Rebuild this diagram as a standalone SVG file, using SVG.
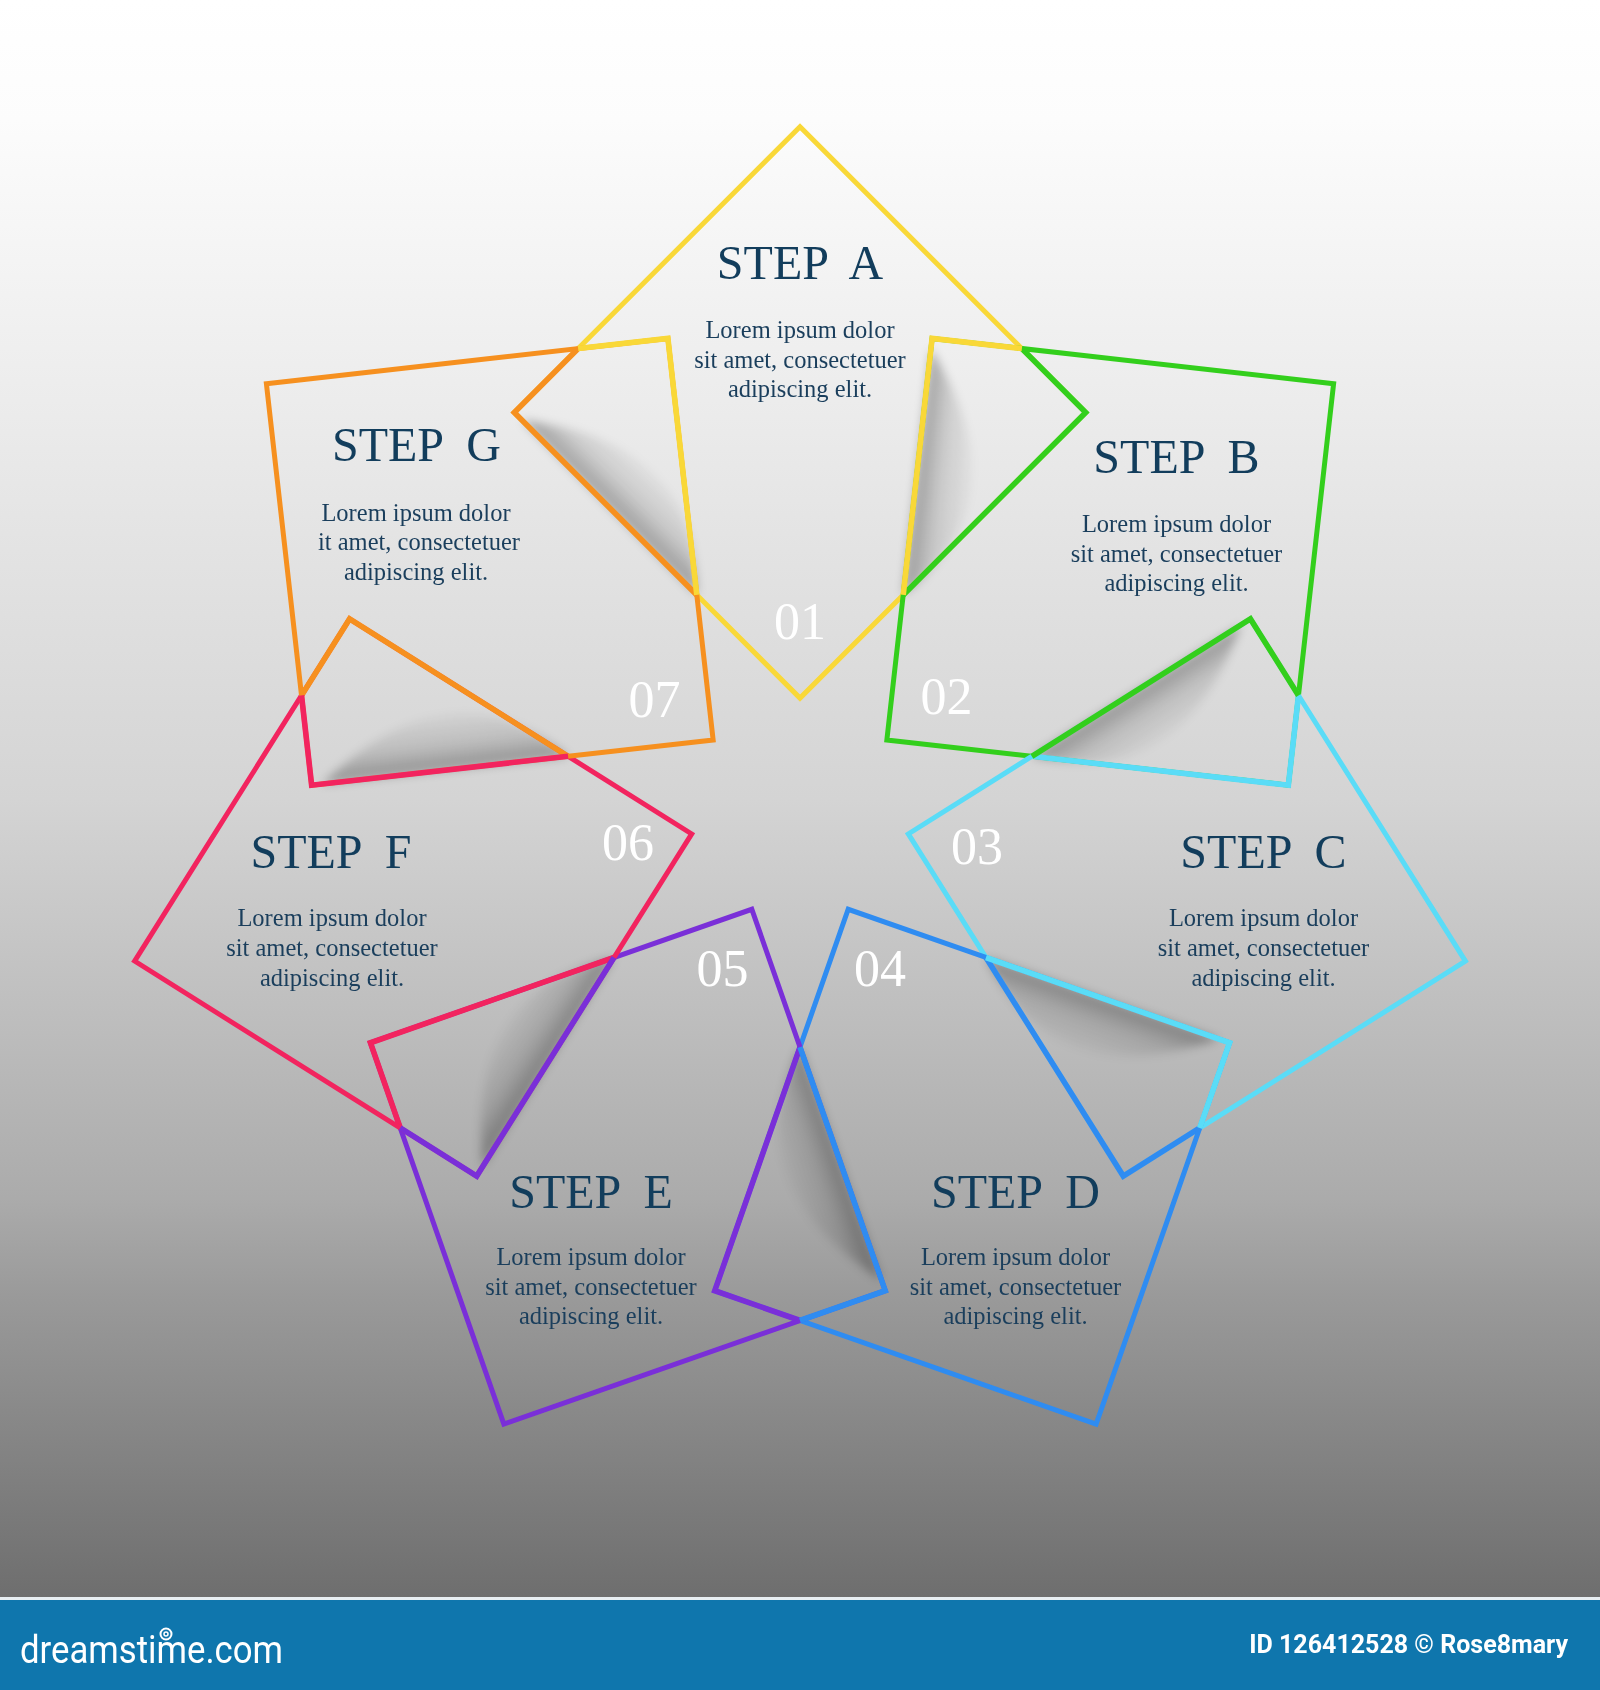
<svg xmlns="http://www.w3.org/2000/svg" xmlns:xlink="http://www.w3.org/1999/xlink" width="1600" height="1690" viewBox="0 0 1600 1690">
  <style>
    .t { font-family: "Liberation Serif", "Times New Roman", serif; font-size: 48px; fill: #123d5c; text-anchor: middle; white-space: pre; }
    .b { font-family: "Liberation Serif", "Times New Roman", serif; font-size: 24.5px; fill: #1a3e5c; text-anchor: middle; }
    .n { font-family: "Liberation Serif", "Times New Roman", serif; font-size: 52px; fill: #ffffff; text-anchor: middle; }
    .sq { fill: none; stroke-width: 5; stroke-linejoin: miter; stroke-miterlimit: 10; }
    .cn { fill: none; stroke-width: 5.6; stroke-linejoin: miter; stroke-miterlimit: 10; }
    .foot { font-family: Roboto, "Liberation Sans", sans-serif; fill: #ffffff; }
  </style>
  <defs>
    <linearGradient id="bg" x1="0" y1="0" x2="0" y2="1598" gradientUnits="userSpaceOnUse">
      <stop offset="0" stop-color="#ffffff"/>
      <stop offset="0.075" stop-color="#fcfcfc"/>
      <stop offset="0.25" stop-color="#ececec"/>
      <stop offset="0.5" stop-color="#d4d4d4"/>
      <stop offset="0.75" stop-color="#ababab"/>
      <stop offset="0.81" stop-color="#9a9a9a"/>
      <stop offset="1" stop-color="#6e6e6e"/>
    </linearGradient>
    <linearGradient id="shg" x1="605.5" y1="503.6" x2="650" y2="459.1" gradientUnits="userSpaceOnUse">
      <stop offset="0" stop-color="#000" stop-opacity="0.32"/>
      <stop offset="0.4" stop-color="#000" stop-opacity="0.12"/>
      <stop offset="1" stop-color="#000" stop-opacity="0"/>
    </linearGradient>
    <filter id="blur" x="-30%" y="-30%" width="160%" height="160%">
      <feGaussianBlur stdDeviation="5"/>
    </filter>
    <path id="sq" d="M800,126.7 L1085.7,412.4 L800,698.1 L514.3,412.4 Z"/>
    <path id="cR" d="M1021.8,348.5 L1085.7,412.4 L903.2,594.9"/>
    <path id="cL" d="M578.2,348.5 L514.3,412.4 L696.8,594.9"/>
    <path id="sh" d="M522,420 L696.8,594.9 Q700,442 522,420 Z"/>
  </defs>

  <rect x="0" y="0" width="1600" height="1598" fill="url(#bg)"/>

  <g id="shadows" fill="url(#shg)" filter="url(#blur)">
    <use xlink:href="#sh" href="#sh"/>
    <use xlink:href="#sh" href="#sh" transform="rotate(51.428571 800 809.2)"/>
    <use xlink:href="#sh" href="#sh" transform="rotate(102.857143 800 809.2)"/>
    <use xlink:href="#sh" href="#sh" transform="rotate(154.285714 800 809.2)"/>
    <use xlink:href="#sh" href="#sh" transform="rotate(205.714286 800 809.2)"/>
    <use xlink:href="#sh" href="#sh" transform="rotate(257.142857 800 809.2)"/>
    <use xlink:href="#sh" href="#sh" transform="rotate(308.571429 800 809.2)"/>
  </g>

  <g id="connectors"></g>

  <g id="step-a">
    <g>
      <use xlink:href="#sq" href="#sq" class="sq" stroke="#f9d838"/>
      <use xlink:href="#cR" href="#cR" class="cn" stroke="#33cf1c"/>
      <use xlink:href="#cL" href="#cL" class="cn" stroke="#f6901f"/>
    </g>
    <text class="t" x="800" y="279" xml:space="preserve">STEP  A</text>
    <text class="b" x="800" y="337.5">Lorem ipsum dolor</text>
    <text class="b" x="800" y="367.5">sit amet, consectetuer</text>
    <text class="b" x="800" y="397">adipiscing elit.</text>
    <text class="n" x="800" y="639">01</text>
  </g>

  <g id="step-b">
    <g transform="rotate(51.428571 800 809.2)">
      <use xlink:href="#sq" href="#sq" class="sq" stroke="#33cf1c"/>
      <use xlink:href="#cR" href="#cR" class="cn" stroke="#5adcf7"/>
      <use xlink:href="#cL" href="#cL" class="cn" stroke="#f9d838"/>
    </g>
    <text class="t" x="1176.5" y="472.5" xml:space="preserve">STEP  B</text>
    <text class="b" x="1176.5" y="532">Lorem ipsum dolor</text>
    <text class="b" x="1176.5" y="561.5">sit amet, consectetuer</text>
    <text class="b" x="1176.5" y="590.5">adipiscing elit.</text>
    <text class="n" x="946.5" y="714">02</text>
  </g>

  <g id="step-c">
    <g transform="rotate(102.857143 800 809.2)">
      <use xlink:href="#sq" href="#sq" class="sq" stroke="#5adcf7"/>
      <use xlink:href="#cR" href="#cR" class="cn" stroke="#2f8cf1"/>
      <use xlink:href="#cL" href="#cL" class="cn" stroke="#33cf1c"/>
    </g>
    <text class="t" x="1263.5" y="868" xml:space="preserve">STEP  C</text>
    <text class="b" x="1263.5" y="926">Lorem ipsum dolor</text>
    <text class="b" x="1263.5" y="956">sit amet, consectetuer</text>
    <text class="b" x="1263.5" y="985.5">adipiscing elit.</text>
    <text class="n" x="977" y="864">03</text>
  </g>

  <g id="step-d">
    <g transform="rotate(154.285714 800 809.2)">
      <use xlink:href="#sq" href="#sq" class="sq" stroke="#2f8cf1"/>
      <use xlink:href="#cR" href="#cR" class="cn" stroke="#7a2fd8"/>
      <use xlink:href="#cL" href="#cL" class="cn" stroke="#5adcf7"/>
    </g>
    <text class="t" x="1015.5" y="1207.5" xml:space="preserve">STEP  D</text>
    <text class="b" x="1015.5" y="1265">Lorem ipsum dolor</text>
    <text class="b" x="1015.5" y="1295">sit amet, consectetuer</text>
    <text class="b" x="1015.5" y="1324">adipiscing elit.</text>
    <text class="n" x="880" y="985.5">04</text>
  </g>

  <g id="step-e">
    <g transform="rotate(205.714286 800 809.2)">
      <use xlink:href="#sq" href="#sq" class="sq" stroke="#7a2fd8"/>
      <use xlink:href="#cR" href="#cR" class="cn" stroke="#f2245f"/>
      <use xlink:href="#cL" href="#cL" class="cn" stroke="#2f8cf1"/>
    </g>
    <text class="t" x="591" y="1207.5" xml:space="preserve">STEP  E</text>
    <text class="b" x="591" y="1265">Lorem ipsum dolor</text>
    <text class="b" x="591" y="1295">sit amet, consectetuer</text>
    <text class="b" x="591" y="1324">adipiscing elit.</text>
    <text class="n" x="722.5" y="985.5">05</text>
  </g>

  <g id="step-f">
    <g transform="rotate(257.142857 800 809.2)">
      <use xlink:href="#sq" href="#sq" class="sq" stroke="#f2245f"/>
      <use xlink:href="#cR" href="#cR" class="cn" stroke="#f6901f"/>
      <use xlink:href="#cL" href="#cL" class="cn" stroke="#7a2fd8"/>
    </g>
    <text class="t" x="331" y="868" xml:space="preserve">STEP  F</text>
    <text class="b" x="332" y="926">Lorem ipsum dolor</text>
    <text class="b" x="332" y="956">sit amet, consectetuer</text>
    <text class="b" x="332" y="985.5">adipiscing elit.</text>
    <text class="n" x="628" y="860">06</text>
  </g>

  <g id="step-g">
    <g transform="rotate(308.571429 800 809.2)">
      <use xlink:href="#sq" href="#sq" class="sq" stroke="#f6901f"/>
      <use xlink:href="#cR" href="#cR" class="cn" stroke="#f9d838"/>
      <use xlink:href="#cL" href="#cL" class="cn" stroke="#f2245f"/>
    </g>
    <text class="t" x="416.5" y="461" xml:space="preserve">STEP  G</text>
    <text class="b" x="416" y="520.5">Lorem ipsum dolor</text>
    <text class="b" x="419" y="550">it amet, consectetuer</text>
    <text class="b" x="416" y="579.5">adipiscing elit.</text>
    <text class="n" x="654.5" y="717">07</text>
  </g>

  <g id="footer">
    <rect x="0" y="1597" width="1600" height="3" fill="#e8eef2"/>
    <rect x="0" y="1600" width="1600" height="90" fill="#0f76ad"/>
    <text class="foot" x="20" y="1663" font-family="Lato, 'Open Sans', sans-serif" font-size="38" textLength="263" lengthAdjust="spacingAndGlyphs">dreamstime.com</text>
    <circle cx="166" cy="1634" r="5.5" fill="none" stroke="#ffffff" stroke-width="2"/>
    <circle cx="166" cy="1634" r="2" fill="none" stroke="#ffffff" stroke-width="1.5"/>
    <text class="foot" x="1568" y="1653" font-size="25" font-weight="bold" text-anchor="end">ID 126412528 © Rose8mary</text>
  </g>
</svg>
